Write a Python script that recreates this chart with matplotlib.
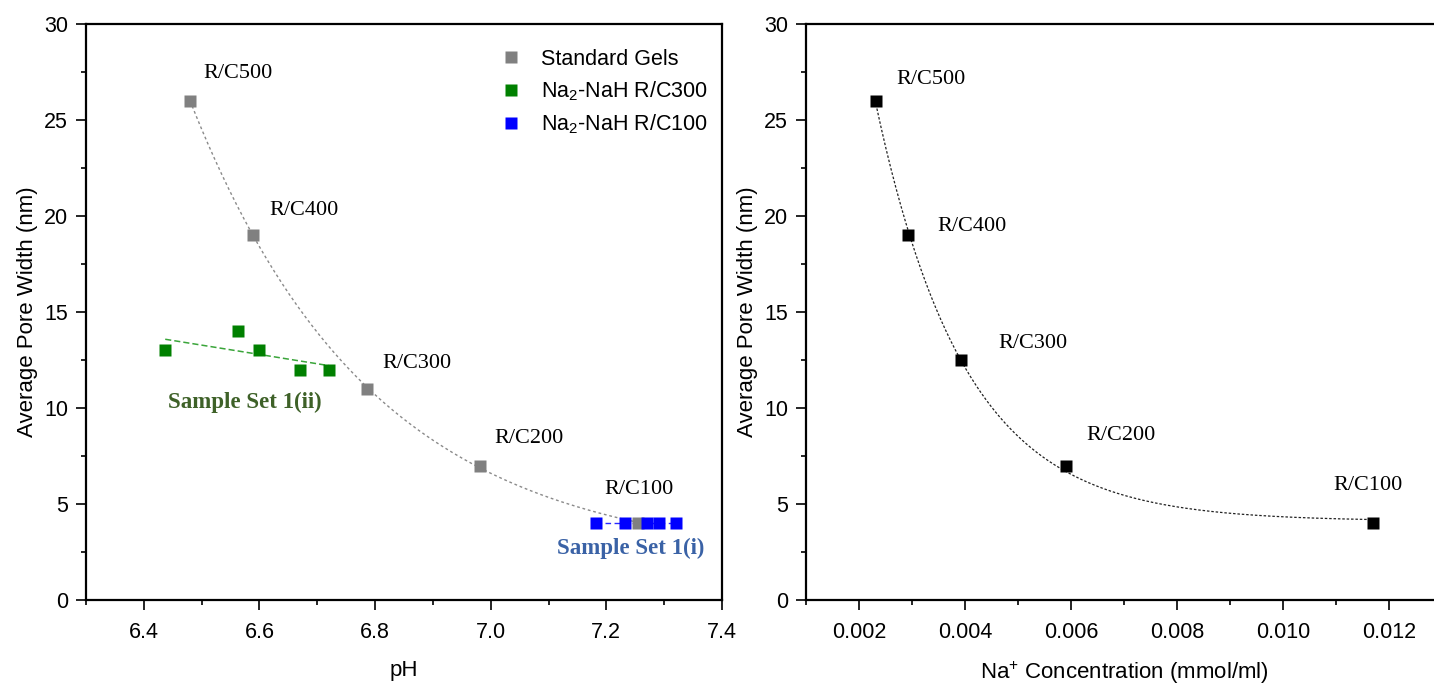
import numpy as np
import matplotlib
matplotlib.use("Agg")
import matplotlib.pyplot as plt
from matplotlib.ticker import MultipleLocator, FormatStrFormatter

plt.rcParams['font.family'] = ['Liberation Sans', 'DejaVu Sans']
plt.rcParams['mathtext.fontset'] = 'custom'
plt.rcParams['mathtext.rm'] = 'Liberation Sans'

# ---- data ----
gel_labels = ["R/C500", "R/C400", "R/C300", "R/C200", "R/C100"]

std_ph = [6.480, 6.589, 6.786, 6.981, 7.254]
std_width = [26, 19, 11, 7, 4]

rc300_ph = [6.437, 6.563, 6.599, 6.670, 6.720]
rc300_width = [13, 14, 13, 12, 12]

rc100_ph = [7.182, 7.232, 7.271, 7.291, 7.321]
rc100_width = [4, 4, 4, 4, 4]

na_conc = [0.00232, 0.00292, 0.00392, 0.00591, 0.0117]
na_width = [26, 19, 12.5, 7, 4]


def expdec_fit(x, y):
    """Fit y = A*exp(-(x-x0)/t) + y0 by scanning t and solving A, y0 linearly."""
    x = np.asarray(x, float)
    y = np.asarray(y, float)
    x0 = x.min()
    span = x.max() - x.min()
    best = None
    for t in np.linspace(span * 0.02, span * 3, 4000):
        e = np.exp(-(x - x0) / t)
        M = np.column_stack([e, np.ones_like(e)])
        coef, *_ = np.linalg.lstsq(M, y, rcond=None)
        err = np.sum((M @ coef - y) ** 2)
        if best is None or err < best[0]:
            best = (err, t, coef)
    _, t, (A, y0) = best
    return lambda xx: A * np.exp(-(np.asarray(xx) - x0) / t) + y0


def style_axes(ax):
    for s in ax.spines.values():
        s.set_linewidth(1.6)
    ax.tick_params(which='major', direction='out', length=7, width=1.2,
                   labelsize=15.5, pad=6)
    ax.tick_params(which='minor', direction='out', length=3.6, width=1.2)
    ax.tick_params(axis='x', which='major', pad=9)
    ax.yaxis.set_major_locator(MultipleLocator(5))
    ax.yaxis.set_minor_locator(MultipleLocator(2.5))
    ax.set_ylim(0, 30)
    ax.set_ylabel("Average Pore Width (nm)", fontsize=16, labelpad=4)


fig = plt.figure(figsize=(14.34, 6.85), dpi=100)
W, H = 1434, 685
ax1 = fig.add_axes([86 / W, 85 / H, 636 / W, 576 / H])
ax2 = fig.add_axes([806 / W, 85 / H, 636 / W, 576 / H])

serif = ['Liberation Serif', 'DejaVu Serif']

# ---- left panel: pore width vs pH ----
style_axes(ax1)
ax1.set_xlim(6.3, 7.4)
ax1.xaxis.set_major_locator(MultipleLocator(0.2))
ax1.xaxis.set_minor_locator(MultipleLocator(0.1))
ax1.xaxis.set_major_formatter(FormatStrFormatter('%.1f'))
ax1.set_xlabel("pH", fontsize=16, labelpad=12)

f_std = expdec_fit(std_ph, std_width)
xs = np.linspace(min(std_ph), max(std_ph), 300)
ax1.plot(xs, f_std(xs), ls=(0, (2, 2)), color='#8a8a8a', lw=1.0, zorder=2)

p300 = np.polyfit(rc300_ph, rc300_width, 1)
xg = np.array([min(rc300_ph), max(rc300_ph)])
ax1.plot(xg, np.polyval(p300, xg), ls=(0, (4, 2)), color='#3aa53a', lw=1.1, zorder=2)

p100 = np.polyfit(rc100_ph, rc100_width, 1)
xb = np.array([min(rc100_ph), max(rc100_ph)])
ax1.plot(xb, np.polyval(p100, xb), ls=(0, (4, 2.5)), color='#2a2aff', lw=1.0, zorder=2)

ax1.plot(std_ph, std_width, 's', color='#808080', ms=8.6, mec='none',
         label="Standard Gels", zorder=3)
ax1.plot(rc300_ph, rc300_width, 's', color='#008000', ms=8.6, mec='none',
         label="Na$_2$-NaH R/C300", zorder=4)
ax1.plot(rc100_ph, rc100_width, 's', color='#0000ff', ms=8.6, mec='none',
         label="Na$_2$-NaH R/C100", zorder=4)

left_offsets = [(13, 27), (16, 25), (15, 25), (15, 27), (-33, 34)]
for lab, x, y, off in zip(gel_labels, std_ph, std_width, left_offsets):
    ax1.annotate(lab, (x, y), xytext=off, textcoords='offset pixels',
                 ha='left', va='center', fontsize=16, family=serif)

ax1.text(6.4426, 10.31, "Sample Set 1(ii)", fontsize=16.5, fontweight='bold',
         family=serif, color='#3e6128', ha='left', va='center')
ax1.text(7.114, 2.71, "Sample Set 1(i)", fontsize=16.5, fontweight='bold',
         family=serif, color='#3a62a6', ha='left', va='center')

leg = ax1.legend(loc='upper left', bbox_to_anchor=(0.651, 0.957), frameon=False,
                 fontsize=15.5, handlelength=1.0, handletextpad=0.9,
                 borderpad=0, borderaxespad=0, labelspacing=0.45, numpoints=1)

# ---- right panel: pore width vs Na+ concentration ----
style_axes(ax2)
ax2.set_xlim(0.001, 0.013)
ax2.xaxis.set_major_locator(MultipleLocator(0.002))
ax2.xaxis.set_minor_locator(MultipleLocator(0.001))
ax2.xaxis.set_major_formatter(FormatStrFormatter('%.3f'))
ax2.set_xlabel("Na$^{+}$ Concentration (mmol/ml)", fontsize=16, labelpad=12)

f_na = expdec_fit(na_conc, na_width)
xn = np.linspace(min(na_conc), max(na_conc), 400)
ax2.plot(xn, f_na(xn), ls=(0, (2, 1.5)), color='#222222', lw=0.9, zorder=2)
ax2.plot(na_conc, na_width, 's', color='#000000', ms=8.6, mec='none', zorder=3)

right_offsets = [(20, 21), (30, 9), (38, 17), (20, 30), (-40, 38)]
for lab, x, y, off in zip(gel_labels, na_conc, na_width, right_offsets):
    ax2.annotate(lab, (x, y), xytext=off, textcoords='offset pixels',
                 ha='left', va='center', fontsize=16, family=serif)

fig.savefig("out.png", dpi=100)
